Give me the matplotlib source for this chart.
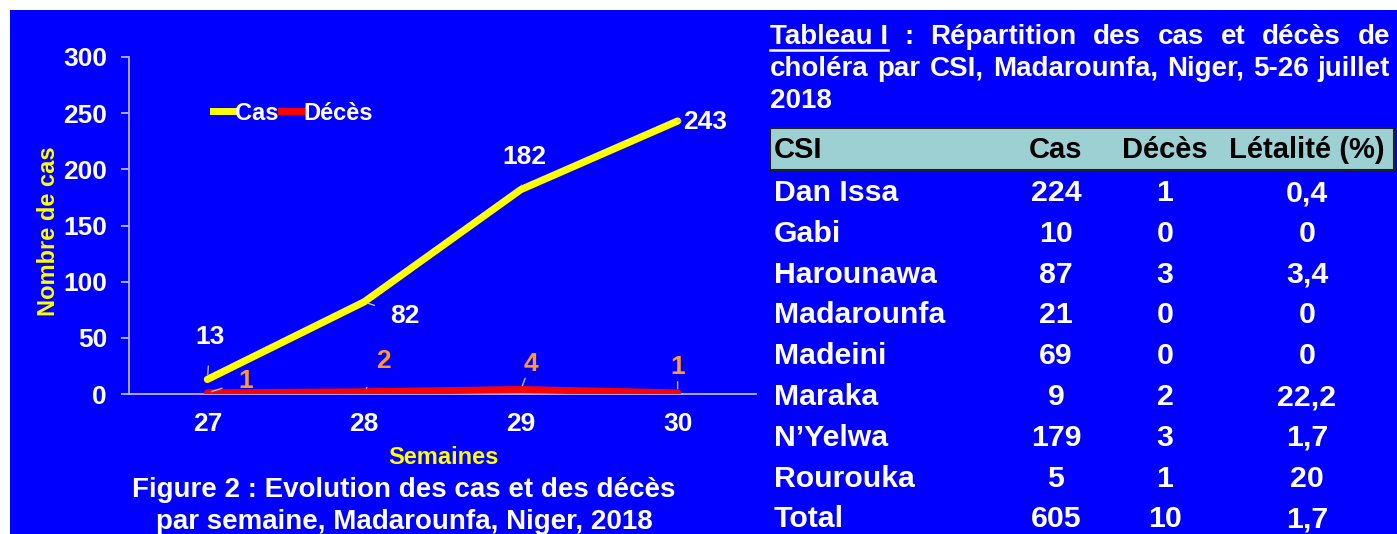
import matplotlib
matplotlib.use('Agg')
import matplotlib.pyplot as plt
from matplotlib.patches import Rectangle
from matplotlib.lines import Line2D

# data
weeks = [27, 28, 29, 30]
cas = [13, 82, 182, 243]
deces = [1, 2, 4, 1]

csi = ['Dan Issa', 'Gabi', 'Harounawa', 'Madarounfa', 'Madeini', 'Maraka', 'N\u2019Yelwa', 'Rourouka', 'Total']
tab_cas = ['224', '10', '87', '21', '69', '9', '179', '5', '605']
tab_deces = ['1', '0', '3', '0', '0', '2', '3', '1', '10']
tab_letal = ['0,4', '0', '3,4', '0', '0', '22,2', '1,7', '20', '1,7']
headers = ['CSI', 'Cas', 'Décès', 'Létalité (%)']

BLUE = '#0000FF'
W, H = 1397, 534
plt.rcParams['font.family'] = ['Liberation Sans', 'DejaVu Sans']
plt.rcParams['font.weight'] = 'bold'

fig = plt.figure(figsize=(W / 100, H / 100), dpi=100, facecolor='white')

def fx(px):
    return px / W

def fy(py):
    return 1 - py / H

# blue slide background
fig.patches.append(Rectangle((fx(10), 0), 1, fy(10), transform=fig.transFigure,
                             facecolor=BLUE, edgecolor='none', zorder=-10))

# ---- chart ----
ax = fig.add_axes([fx(129), fy(394), fx(756) - fx(129), fy(57) - fy(394)])
ax.patch.set_alpha(0)
ax.plot(weeks, deces, color='#FF0000', lw=5, solid_capstyle='round', zorder=3)
ax.plot(weeks, cas, color='#FFFF00', lw=5.2, solid_capstyle='round', zorder=4)
ax.set_xlim(26.5, 30.5)
ax.set_ylim(0, 300)
ax.set_xticks(weeks)
ax.set_yticks(range(0, 301, 50))
for s in ['top', 'right']:
    ax.spines[s].set_visible(False)
for s in ['left', 'bottom']:
    ax.spines[s].set_color('#B4B4FF')
    ax.spines[s].set_linewidth(1.3)
ax.tick_params(axis='y', colors='#B4B4FF', length=5.8, width=1.3, labelsize=19,
               labelcolor='white', pad=10)
ax.tick_params(axis='x', length=0, labelsize=19, labelcolor='white', pad=13)
ax.set_ylabel('Nombre de cas', color='#FFFF00', fontsize=17, fontweight='bold')
ax.yaxis.set_label_coords((49 - 129) / 627, 0.484)
ax.yaxis.label.set_va('center')
ax.set_xlabel('Semaines', color='#FFFF00', fontsize=17, fontweight='bold')
ax.xaxis.set_label_coords((443 - 129) / 627, -0.155)

cas_off = [(3, 42), (41, -14), (3, 33), (28, -1)]
dec_off = [(38, 12), (19, 31), (10, 26), (0, 26)]
for x, y, o in zip(weeks, cas, cas_off):
    ax.annotate(str(y), (x, y), xytext=o, textcoords='offset pixels', color='white',
                fontsize=19, fontweight='bold', ha='center', va='center',
                arrowprops=dict(arrowstyle='-', color='#C0C0C0', lw=1, shrinkA=10, shrinkB=3),
                zorder=6)
for x, y, o in zip(weeks, deces, dec_off):
    ax.annotate(str(y), (x, y), xytext=o, textcoords='offset pixels', color='#FF9933',
                fontsize=19, fontweight='bold', ha='center', va='center',
                arrowprops=dict(arrowstyle='-', color='#C0C0C0', lw=1, shrinkA=10, shrinkB=3),
                zorder=6)

handles = [Line2D([], [], color='#FFFF00', lw=5), Line2D([], [], color='#FF0000', lw=5)]
leg = fig.legend(handles, ['Cas', 'Décès'], loc='center', bbox_to_anchor=(fx(293), fy(113)),
                 ncol=2, frameon=False, handlelength=0.9, handletextpad=0.05,
                 columnspacing=0.1, prop={'size': 17, 'weight': 'bold'})
for t in leg.get_texts():
    t.set_color('white')

fig.text(fx(404), fy(490), 'Figure 2 : Evolution des cas et des décès', color='white',
         fontsize=20, fontweight='bold', ha='center', va='center')
fig.text(fx(404), fy(522), 'par semaine, Madarounfa, Niger, 2018', color='white',
         fontsize=20, fontweight='bold', ha='center', va='center')

# ---- table title (justified) ----
title_lines = [['Tableau I', ':', 'Répartition', 'des', 'cas', 'et', 'décès', 'de'],
               ['choléra', 'par', 'CSI,', 'Madarounfa,', 'Niger,', '5-26', 'juillet'],
               ['2018']]
title_y = [37, 69, 101]
left, right = 770, 1390
renderer = fig.canvas.get_renderer()
for li, (words, py) in enumerate(zip(title_lines, title_y)):
    objs = [fig.text(fx(left), fy(py), w, color='white', fontsize=20, fontweight='bold',
                     ha='left', va='center') for w in words]
    widths = [o.get_window_extent(renderer).width for o in objs]
    if len(objs) > 1 and li < 2:
        gap = (right - left - sum(widths)) / (len(objs) - 1)
    else:
        gap = 0
    xpos = left
    for o, w in zip(objs, widths):
        o.set_x(fx(xpos))
        xpos += w + gap
    if li == 0:
        fig.add_artist(Line2D([fx(left), fx(left + widths[0])], [fy(py + 13), fy(py + 13)],
                              transform=fig.transFigure, color='white', lw=1.8))

# ---- table ----
fig.patches.append(Rectangle((fx(770), fy(170)), fx(1394) - fx(770), fy(128) - fy(170),
                             transform=fig.transFigure, facecolor='#9DD0D3',
                             edgecolor='#222222', lw=1.5, zorder=1))
col_x = [774, 1056, 1165, 1307]
col_ha = ['left', 'center', 'center', 'center']
for h, cx, ha in zip(headers, col_x, col_ha):
    fig.text(fx(cx), fy(150), h, color='black', fontsize=21, fontweight='bold',
             ha=ha, va='center', zorder=2)

row_y0, row_dy = 193, 40.8
for i in range(len(csi)):
    py = row_y0 + i * row_dy
    for val, cx, ha in zip([csi[i], tab_cas[i], tab_deces[i], tab_letal[i]], col_x, col_ha):
        fig.text(fx(cx), fy(py), val, color='white', fontsize=21.8, fontweight='bold',
                 ha=ha, va='center')

fig.savefig('out.png', dpi=100, facecolor=fig.get_facecolor())
